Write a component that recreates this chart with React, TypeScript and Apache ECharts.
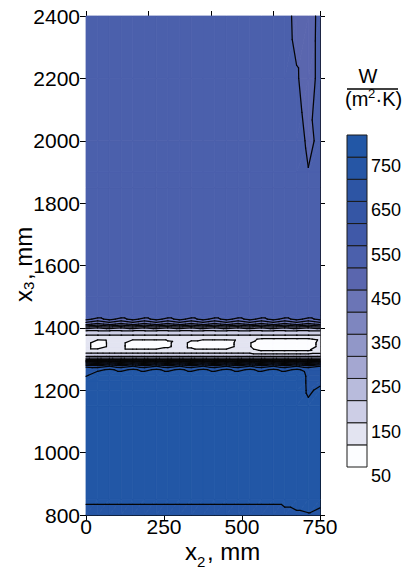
import React, { useEffect, useRef } from "react";
import * as echarts from "echarts";

const FONT = "'Liberation Sans', Arial, Helvetica, sans-serif";

// grid columns along x2 (mm)
const x2Cols = [0, 37.5, 75, 112.5, 150, 187.5, 225, 262.5, 300, 337.5, 375, 412.5, 450, 487.5, 525, 562.5, 600, 637.5, 675, 712.5, 750];
// grid rows along x3 (mm)
const x3Rows = [800, 850, 1150, 1200, 1230, 1248, 1266, 1278, 1289, 1299, 1312, 1328, 1340, 1352, 1364, 1376, 1390, 1400, 1412, 1428, 1440, 1500, 1850, 1900, 2000, 2200, 2400];

// heat transfer coefficient, W/(m2 K), one row per x3 value, one column per x2 value
const htc: number[][] = [
  /* 800 */ [724, 724, 724, 724, 724, 724, 724, 724, 724, 724, 724, 724, 724, 724, 724, 724, 724, 738, 745, 748, 740],
  /* 850 */ [762, 762, 762, 762, 762, 762, 762, 762, 762, 762, 762, 762, 762, 762, 762, 762, 762, 762, 762, 762, 762],
  /* 1150 */ [772, 772, 772, 772, 772, 772, 772, 772, 772, 772, 772, 772, 772, 772, 772, 772, 772, 772, 772, 756, 772],
  /* 1200 */ [772, 772, 772, 772, 772, 772, 772, 772, 772, 772, 772, 772, 772, 772, 772, 772, 772, 772, 772, 745, 756],
  /* 1230 */ [772, 772, 772, 772, 772, 772, 772, 772, 772, 772, 772, 772, 772, 772, 772, 772, 772, 772, 772, 744, 742],
  /* 1248 */ [745, 770, 770, 770, 770, 770, 770, 770, 770, 770, 770, 770, 770, 770, 770, 770, 770, 770, 770, 744, 742],
  /* 1266 */ [740, 742, 755, 742, 755, 742, 755, 742, 755, 742, 755, 742, 755, 742, 755, 742, 755, 742, 755, 740, 740],
  /* 1278 */ [680, 665, 695, 665, 695, 665, 695, 665, 695, 665, 695, 665, 695, 665, 695, 665, 695, 665, 695, 665, 695],
  /* 1289 */ [520, 505, 530, 505, 530, 505, 530, 505, 530, 505, 530, 505, 530, 505, 530, 505, 530, 505, 530, 505, 530],
  /* 1299 */ [280, 280, 280, 280, 280, 280, 280, 280, 280, 280, 280, 280, 280, 280, 280, 280, 280, 280, 280, 280, 280],
  /* 1312 */ [175, 175, 175, 175, 175, 175, 175, 175, 175, 175, 175, 175, 175, 175, 175, 175, 175, 175, 175, 175, 175],
  /* 1328 */ [120, 118, 120, 120, 118, 118, 118, 118, 120, 118, 118, 118, 118, 120, 118, 95, 95, 95, 95, 95, 112],
  /* 1340 */ [120, 70, 110, 120, 62, 62, 62, 92, 120, 90, 62, 62, 62, 120, 104, 62, 60, 60, 60, 62, 120],
  /* 1352 */ [120, 70, 110, 120, 62, 62, 62, 92, 120, 90, 62, 62, 62, 120, 104, 62, 60, 60, 60, 62, 120],
  /* 1364 */ [112, 108, 112, 112, 108, 108, 108, 108, 112, 108, 108, 108, 108, 112, 108, 95, 95, 95, 95, 95, 110],
  /* 1376 */ [148, 148, 148, 148, 148, 148, 148, 148, 148, 148, 148, 148, 148, 148, 148, 148, 148, 148, 148, 148, 148],
  /* 1390 */ [195, 195, 195, 195, 195, 195, 195, 195, 195, 195, 195, 195, 195, 195, 195, 195, 195, 195, 195, 195, 195],
  /* 1400 */ [268, 252, 268, 252, 268, 252, 268, 252, 268, 252, 268, 252, 268, 252, 268, 252, 268, 252, 268, 252, 268],
  /* 1412 */ [415, 385, 415, 385, 415, 385, 415, 385, 415, 385, 415, 385, 415, 385, 415, 385, 415, 385, 415, 385, 415],
  /* 1428 */ [512, 488, 512, 488, 512, 488, 512, 488, 512, 488, 512, 488, 512, 488, 512, 488, 512, 488, 512, 488, 512],
  /* 1440 */ [526, 526, 526, 526, 526, 526, 526, 526, 526, 526, 526, 526, 526, 526, 526, 526, 526, 526, 526, 526, 526],
  /* 1500 */ [528, 528, 528, 528, 528, 528, 528, 528, 528, 528, 528, 528, 528, 528, 528, 528, 528, 528, 528, 528, 528],
  /* 1850 */ [528, 528, 528, 528, 528, 528, 528, 528, 528, 528, 528, 528, 528, 528, 528, 528, 528, 528, 525, 515, 525],
  /* 1900 */ [530, 530, 530, 530, 530, 530, 530, 530, 530, 530, 530, 530, 530, 530, 530, 530, 530, 530, 520, 501, 515],
  /* 2000 */ [530, 530, 530, 530, 530, 530, 530, 530, 530, 530, 530, 530, 530, 530, 530, 530, 530, 530, 515, 494, 506],
  /* 2200 */ [530, 530, 530, 530, 530, 530, 530, 530, 530, 530, 530, 530, 530, 530, 530, 530, 530, 525, 504, 482, 512],
  /* 2400 */ [530, 530, 530, 530, 530, 530, 530, 530, 530, 530, 530, 530, 530, 530, 530, 530, 530, 520, 485, 480, 512],
];

// contour levels and fill colours (one colour per interval)
const levels = [50, 100, 150, 200, 250, 300, 350, 400, 450, 500, 550, 600, 650, 700, 750, 800];
const palette = [
  "#fcfdff", "#e3e4f1", "#cdcee6", "#b8bbdc", "#a4a7d1",
  "#9197c8", "#7e86bf", "#6b75b6", "#5a66ae", "#4b60ac",
  "#4059a8", "#3556a5", "#2d55a4", "#2656a5", "#2257a6",
];
const lineLevels = [100, 150, 200, 250, 300, 350, 400, 450, 500, 550, 600, 650, 700, 750];

type P3 = number[];

function clipPoly(poly: P3[], lvl: number, keepAbove: boolean): P3[] {
  const out: P3[] = [];
  for (let n = 0; n < poly.length; n++) {
    const a = poly[n];
    const b = poly[(n + 1) % poly.length];
    const ina = keepAbove ? a[2] >= lvl : a[2] <= lvl;
    const inb = keepAbove ? b[2] >= lvl : b[2] <= lvl;
    if (ina) out.push(a);
    if (ina !== inb) {
      const t = (lvl - a[2]) / (b[2] - a[2]);
      out.push([a[0] + t * (b[0] - a[0]), a[1] + t * (b[1] - a[1]), lvl]);
    }
  }
  return out;
}

function bandOf(v: number): number {
  let k = 0;
  while (k < palette.length - 1 && v >= levels[k + 1]) k++;
  return k;
}

export default function App() {
  const ref = useRef<HTMLDivElement>(null);

  useEffect(() => {
    if (!ref.current) return;
    const chart = echarts.init(ref.current, null, { renderer: "svg" });

    const cells: number[][] = [];
    for (let j = 0; j < x3Rows.length - 1; j++) {
      for (let i = 0; i < x2Cols.length - 1; i++) {
        cells.push([x2Cols[i], x3Rows[j], i, j]);
      }
    }

    const corners = (api: any) => {
      const i = api.value(2) as number;
      const j = api.value(3) as number;
      const P = (ii: number, jj: number): P3 => {
        const c = api.coord([x2Cols[ii], x3Rows[jj]]);
        return [c[0], c[1], htc[jj][ii]];
      };
      return [P(i, j), P(i + 1, j), P(i + 1, j + 1), P(i, j + 1)];
    };

    const fillItem = (_params: any, api: any) => {
      const [a, b, c, d] = corners(api);
      const children: any[] = [];
      const ka = bandOf(a[2]);
      if (ka === bandOf(b[2]) && ka === bandOf(c[2]) && ka === bandOf(d[2])) {
        children.push({
          type: "polygon",
          shape: { points: [a, b, c, d].map((p) => [p[0], p[1]]) },
          style: { fill: palette[ka], stroke: palette[ka], lineWidth: 0.8 },
        });
      } else {
        const tris = [[a, b, c], [a, c, d]];
        for (const t of tris) {
          for (let k = 0; k < palette.length; k++) {
            let poly = clipPoly(t, levels[k], true);
            if (poly.length < 3) continue;
            poly = clipPoly(poly, levels[k + 1], false);
            if (poly.length < 3) continue;
            children.push({
              type: "polygon",
              shape: { points: poly.map((p) => [p[0], p[1]]) },
              style: { fill: palette[k], stroke: palette[k], lineWidth: 0.8 },
            });
          }
        }
      }
      return { type: "group", children };
    };

    const lineItem = (_params: any, api: any) => {
      const [a, b, c, d] = corners(api);
      const children: any[] = [];
      const tris = [[a, b, c], [a, c, d]];
      for (const t of tris) {
        for (const L of lineLevels) {
          const pts: number[][] = [];
          for (let e = 0; e < 3; e++) {
            const p = t[e];
            const q = t[(e + 1) % 3];
            if ((p[2] < L) !== (q[2] < L)) {
              const s = (L - p[2]) / (q[2] - p[2]);
              pts.push([p[0] + s * (q[0] - p[0]), p[1] + s * (q[1] - p[1])]);
            }
          }
          if (pts.length === 2) {
            children.push({
              type: "line",
              shape: { x1: pts[0][0], y1: pts[0][1], x2: pts[1][0], y2: pts[1][1] },
              style: { stroke: "#050505", lineWidth: 1.25, lineCap: "round" },
            });
          }
        }
      }
      return { type: "group", children };
    };

    const barData = palette.map((_, k) => [0.5, levels[k], levels[k + 1], k]);
    const barItem = (_params: any, api: any) => {
      const lo = api.value(1);
      const hi = api.value(2);
      const k = api.value(3);
      const p1 = api.coord([0, hi]);
      const p2 = api.coord([1, lo]);
      return {
        type: "rect",
        shape: { x: p1[0], y: p1[1], width: p2[0] - p1[0], height: p2[1] - p1[1] },
        style: { fill: palette[k], stroke: "#1a1a1a", lineWidth: 1 },
      };
    };

    const axisBase = {
      axisLine: { show: true, onZero: false, lineStyle: { color: "#000", width: 1 } },
      splitLine: { show: false },
    };

    const txt = (text: string, x: number, y: number, size: number, align = "left", lh?: number) => ({
      type: "text",
      x,
      y,
      silent: true,
      style: {
        text,
        fill: "#000",
        fontSize: size,
        fontFamily: FONT,
        lineHeight: lh ?? Math.round(size * 0.85),
        align,
        verticalAlign: "middle",
        textAlign: align,
        textVerticalAlign: "middle",
      },
    });

    const option: any = {
      animation: false,
      backgroundColor: "#fff",
      grid: [
        { left: 86, top: 16, width: 234, height: 499 },
        { left: 347, top: 135, width: 20, height: 332 },
      ],
      xAxis: [
        {
          ...axisBase,
          gridIndex: 0,
          type: "value",
          position: "bottom",
          min: 0,
          max: 750,
          interval: 250,
          axisTick: { show: true, inside: false, length: 5, lineStyle: { color: "#000" } },
          axisLabel: {
            show: true, fontSize: 21, fontFamily: FONT, color: "#000", margin: 2, lineHeight: 18,
            formatter: (v: number) => String(v),
          },
        },
        {
          ...axisBase,
          gridIndex: 0,
          type: "value",
          position: "top",
          min: 0,
          max: 750,
          interval: 200,
          axisTick: { show: true, inside: false, length: 5, lineStyle: { color: "#000" } },
          axisLabel: { show: false },
        },
        { gridIndex: 1, type: "value", min: 0, max: 1, show: false },
      ],
      yAxis: [
        {
          ...axisBase,
          gridIndex: 0,
          type: "value",
          position: "left",
          min: 800,
          max: 2400,
          interval: 200,
          axisTick: { show: true, inside: false, length: 6, lineStyle: { color: "#000" } },
          axisLabel: {
            show: true, fontSize: 21, fontFamily: FONT, color: "#000", margin: 6,
            formatter: (v: number) => String(v),
          },
        },
        {
          ...axisBase,
          gridIndex: 0,
          type: "value",
          position: "right",
          min: 800,
          max: 2400,
          interval: 200,
          axisTick: { show: true, inside: false, length: 5, lineStyle: { color: "#000" } },
          axisLabel: { show: false },
        },
        {
          gridIndex: 1,
          type: "value",
          position: "right",
          min: 50,
          max: 800,
          interval: 50,
          axisLine: { show: false },
          axisTick: { show: false },
          splitLine: { show: false },
          axisLabel: {
            show: true,
            fontSize: 18,
            fontFamily: FONT,
            color: "#000",
            margin: 4,
            verticalAlign: "top",
            formatter: (v: number) => (v < 800 && (v - 50) % 100 === 0 ? String(v) : ""),
          },
        },
      ],
      series: [
        {
          type: "custom",
          name: "fill",
          xAxisIndex: 0,
          yAxisIndex: 0,
          data: cells,
          encode: { x: 0, y: 1 },
          renderItem: fillItem,
          silent: true,
          z: 1,
        },
        {
          type: "custom",
          name: "isolines",
          xAxisIndex: 0,
          yAxisIndex: 0,
          data: cells,
          encode: { x: 0, y: 1 },
          renderItem: lineItem,
          silent: true,
          z: 3,
        },
        {
          type: "custom",
          name: "colorbar",
          xAxisIndex: 2,
          yAxisIndex: 2,
          data: barData,
          encode: { x: 0, y: [1, 2] },
          renderItem: barItem,
          silent: true,
        },
      ],
      graphic: [
        // x2 axis title
        txt("x", 185, 551, 24, "left", 18),
        txt("2", 197, 561.5, 15, "left", 12),
        txt(", mm", 207, 551, 24, "left", 18),
        // x3 axis title (rotated, reading upward)
        {
          type: "group",
          x: 23,
          y: 302,
          rotation: Math.PI / 2,
          children: [
            txt("x", 0, 0, 24),
            txt("3", 12, 5, 15),
            txt(", mm", 22, 0, 24),
          ],
        },
        // unit label
        txt("W", 368, 76, 20, "center"),
        {
          type: "line",
          silent: true,
          shape: { x1: 347, y1: 89, x2: 398, y2: 89 },
          style: { stroke: "#000", lineWidth: 1.3 },
        },
        txt("(m", 345, 99, 20),
        txt("2", 368, 93.5, 13),
        txt("·K)", 375.5, 99, 20),
      ],
    };

    chart.setOption(option);
    return () => chart.dispose();
  }, []);

  return (
    <div
      ref={ref}
      style={{ position: "fixed", left: 0, top: 0, width: 407, height: 569, background: "#fff" }}
    />
  );
}
